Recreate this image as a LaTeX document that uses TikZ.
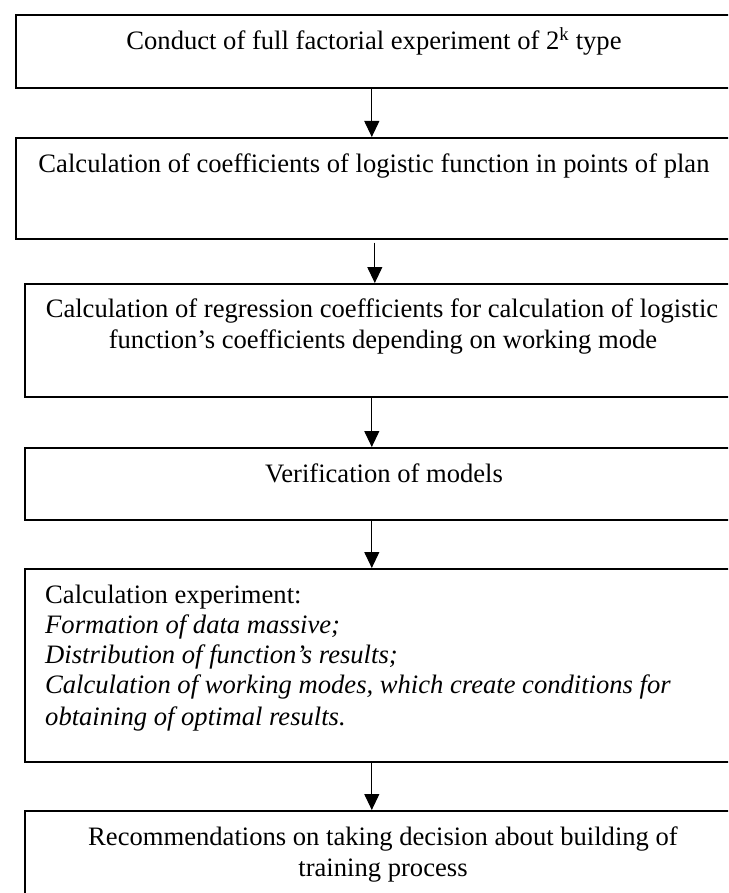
\documentclass[tikz,border=0pt]{standalone}
\usepackage{fontspec}
\setmainfont{Liberation Serif}
\usetikzlibrary{arrows.meta}
\begin{document}
\begin{tikzpicture}[x=1pt,y=-1pt,
  box/.style={draw=black, line width=1.6pt, rectangle, inner sep=0pt, anchor=north west},
  txt/.style={font=\fontsize{26.6}{30.5}\selectfont, inner sep=0pt, anchor=base},
  arr/.style={draw=black, line width=1.1pt, -{Triangle[length=16pt,width=15pt]}}]
\useasboundingbox (0,0) rectangle (728,893);
\clip (0,0) rectangle (728,893);
% boxes
\node[box, minimum width=718pt, minimum height=73pt]  (b1) at (15,14) {};
\node[box, minimum width=718pt, minimum height=101pt] (b2) at (15,137) {};
\node[box, minimum width=718pt, minimum height=113pt] (b3) at (24,283) {};
\node[box, minimum width=718pt, minimum height=72pt]  (b4) at (24,447) {};
\node[box, minimum width=718pt, minimum height=193pt] (b5) at (24,568) {};
\node[box, minimum width=718pt, minimum height=120pt] (b6) at (24,810) {};
% texts
\node[txt] (t1) at (374,50) {Conduct of full factorial experiment of 2\textsuperscript{k} type};
\node[txt] (t2) at (374,173) {Calculation of coefficients of logistic function in points of plan};
\node[txt] (t3a) at (382,317) {Calculation of regression coefficients for calculation of logistic};
\node[txt] (t3b) at (383,348) {function’s coefficients depending on working mode};
\node[txt] (t4) at (384,482) {Verification of models};
\node[txt, anchor=base west] (t5a) at (45,603) {Calculation experiment:};
\node[txt, anchor=base west] (t5b) at (45,633) {\itshape Formation of data massive;};
\node[txt, anchor=base west] (t5c) at (45,663) {\itshape Distribution of function’s results;};
\node[txt, anchor=base west] (t5d) at (45,693) {\itshape Calculation of working modes, which create conditions for};
\node[txt, anchor=base west] (t5e) at (45,725) {\itshape obtaining of optimal results.};
\node[txt] (t6a) at (383,845) {Recommendations on taking decision about building of};
\node[txt] (t6b) at (383,876) {training process};
% arrows
\draw[arr] ([xshift=-3pt]b1.south) -- ([xshift=-3pt]b2.north);
\draw[arr] ([xshift=0pt,yshift=-3pt]b2.south) -- ([xshift=-9pt]b3.north);
\draw[arr] ([xshift=-12pt]b3.south) -- ([xshift=-12pt]b4.north);
\draw[arr] ([xshift=-12pt]b4.south) -- ([xshift=-12pt]b5.north);
\draw[arr] ([xshift=-12pt]b5.south) -- ([xshift=-12pt]b6.north);
\end{tikzpicture}
\end{document}
